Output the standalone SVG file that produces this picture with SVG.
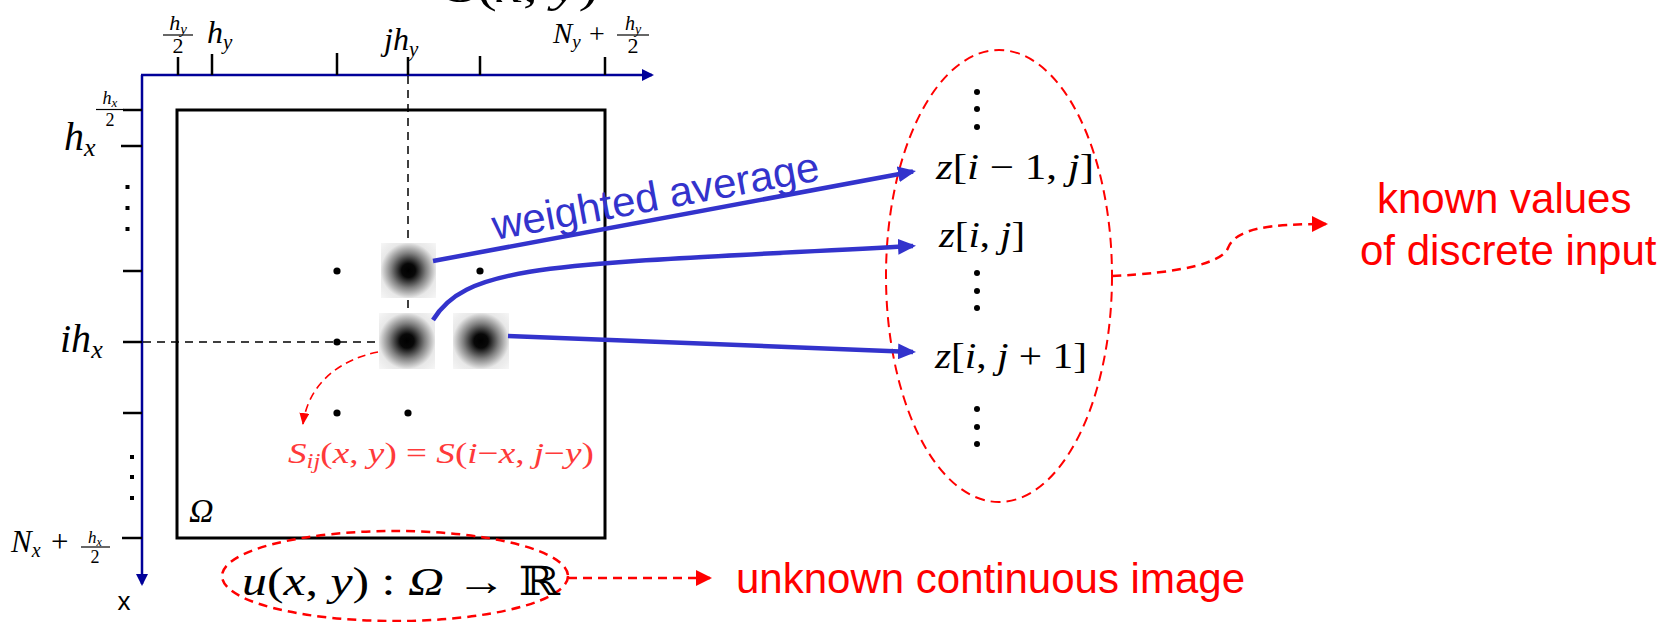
<svg xmlns="http://www.w3.org/2000/svg" width="1672" height="622" viewBox="0 0 1672 622">
<style>
.m{font-family:"Liberation Serif","DejaVu Serif",serif;fill:#000}
.it{font-style:italic}
.rm{font-style:normal}
.s{font-family:"Liberation Sans",Arial,sans-serif}
.blue{fill:#3333CC}
.red{fill:#FF0000}
.pink{fill:#FF3A3A}
.axis{stroke:#000099;stroke-width:2.5;fill:none}
.tick{stroke:#000;stroke-width:2.5}
.fb{stroke:#000;stroke-width:1.2}
.dash{stroke:#000;stroke-width:1.5;stroke-dasharray:8 6;fill:none}
.bl{stroke:#3333CC;stroke-width:4.5;fill:none}
.rd{stroke:#FF0000;stroke-width:2;stroke-dasharray:9 6;fill:none}
.dot{fill:#000}
</style>
<defs>
<marker id="ab" viewBox="0 0 18 16" refX="15" refY="8" markerWidth="18" markerHeight="16" markerUnits="userSpaceOnUse" orient="auto"><path d="M0,0 L18,8 L0,16 z" fill="#3333CC"/></marker>
<marker id="ar" viewBox="0 0 16 16" refX="14" refY="8" markerWidth="16" markerHeight="16" markerUnits="userSpaceOnUse" orient="auto"><path d="M0,0 L16,8 L0,16 z" fill="#FF0000"/></marker>
<marker id="ars" viewBox="0 0 12 10" refX="11" refY="5" markerWidth="12" markerHeight="10" markerUnits="userSpaceOnUse" orient="auto"><path d="M0,0 L12,5 L0,10 z" fill="#FF0000"/></marker>
<marker id="an" viewBox="0 0 12 12" refX="10" refY="6" markerWidth="12" markerHeight="12" markerUnits="userSpaceOnUse" orient="auto"><path d="M0,0 L12,6 L0,12 z" fill="#000099"/></marker>
<radialGradient id="blob" cx="0.5" cy="0.5" r="0.7">
<stop offset="0" stop-color="#000"/>
<stop offset="0.18" stop-color="#080808"/>
<stop offset="0.45" stop-color="#808080"/>
<stop offset="0.72" stop-color="#e8e8e8"/>
<stop offset="1" stop-color="#f6f6f6"/>
</radialGradient>
</defs>
<rect width="1672" height="622" fill="#fff"/>

<text class="m it" x="448" y="2" font-size="44" textLength="150" lengthAdjust="spacingAndGlyphs">S<tspan class="rm">(</tspan>x<tspan class="rm">, </tspan>y<tspan class="rm">)</tspan></text>

<g id="domain">
<rect x="177" y="110" width="428" height="428" fill="none" stroke="#000" stroke-width="3"/>
<text class="m it" x="189" y="522" font-size="34">Ω</text>
</g>

<g id="axes">
<path class="axis" d="M141,75 H652" marker-end="url(#an)"/>
<path class="axis" d="M142,75 V584" marker-end="url(#an)"/>
<text class="s" x="124" y="610" font-size="26" text-anchor="middle">x</text>
<g id="top-ticks">
<line class="tick" x1="178" y1="57" x2="178" y2="75"/>
<line class="tick" x1="212" y1="54" x2="212" y2="75"/>
<line class="tick" x1="337" y1="53" x2="337" y2="75"/>
<line class="tick" x1="408" y1="57" x2="408" y2="75"/>
<line class="tick" x1="480" y1="56" x2="480" y2="75"/>
<line class="tick" x1="605" y1="57" x2="605" y2="75"/>
</g>
<g id="left-ticks">
<line class="tick" x1="123" y1="110" x2="142" y2="110"/>
<line class="tick" x1="121" y1="146" x2="142" y2="146"/>
<line class="tick" x1="123" y1="271" x2="142" y2="271"/>
<line class="tick" x1="123" y1="342" x2="142" y2="342"/>
<line class="tick" x1="123" y1="413" x2="142" y2="413"/>
<line class="tick" x1="122" y1="538" x2="142" y2="538"/>
</g>
<g id="left-dots">
<rect class="dot" x="125.5" y="185" width="4" height="4"/>
<rect class="dot" x="125.5" y="206" width="4" height="4"/>
<rect class="dot" x="125.5" y="227" width="4" height="4"/>
<rect class="dot" x="130" y="455" width="4" height="4"/>
<rect class="dot" x="130" y="475" width="4" height="4"/>
<rect class="dot" x="130" y="496" width="4" height="4"/>
</g>
</g>

<g id="axis-labels">
<text class="m it" x="178" y="30" font-size="22" text-anchor="middle">h<tspan font-size="15" dy="4">y</tspan></text>
<line class="fb" x1="163" y1="35" x2="193" y2="35"/>
<text class="m" x="178" y="53" font-size="22" text-anchor="middle">2</text>
<text class="m it" x="207" y="43" font-size="32">h<tspan font-size="21" dy="6">y</tspan></text>
<text class="m it" x="384" y="50" font-size="32">jh<tspan font-size="21" dy="6">y</tspan></text>
<text class="m it" x="553" y="43" font-size="29">N<tspan font-size="19" dy="5">y</tspan></text>
<text class="m" x="589" y="43" font-size="28">+</text>
<text class="m it" x="633" y="30" font-size="20" text-anchor="middle">h<tspan font-size="14" dy="4">y</tspan></text>
<line class="fb" x1="617" y1="35" x2="649" y2="35"/>
<text class="m" x="633" y="53" font-size="22" text-anchor="middle">2</text>

<text class="m it" x="110" y="104" font-size="18" text-anchor="middle">h<tspan font-size="13" dy="3">x</tspan></text>
<line class="fb" x1="96" y1="109.5" x2="124" y2="109.5"/>
<text class="m" x="110" y="126" font-size="18" text-anchor="middle">2</text>
<text class="m it" x="64" y="150" font-size="40">h<tspan font-size="26" dy="6">x</tspan></text>
<text class="m it" x="60" y="352" font-size="40">ih<tspan font-size="26" dy="6">x</tspan></text>
<text class="m it" x="11" y="552" font-size="31">N<tspan font-size="20" dy="5">x</tspan></text>
<text class="m" x="51" y="552" font-size="31">+</text>
<text class="m it" x="95" y="543" font-size="17" text-anchor="middle">h<tspan font-size="12" dy="3">x</tspan></text>
<line class="fb" x1="81" y1="547" x2="110" y2="547"/>
<text class="m" x="95" y="563" font-size="18" text-anchor="middle">2</text>
</g>

<g id="guides">
<line class="dash" x1="408" y1="76" x2="408" y2="316"/>
<line class="dash" x1="143" y1="342" x2="380" y2="342"/>
</g>

<g id="grid-dots">
<circle class="dot" cx="337" cy="271" r="3.6"/>
<circle class="dot" cx="480" cy="271" r="3.6"/>
<circle class="dot" cx="337" cy="342" r="3.6"/>
<circle class="dot" cx="337" cy="413" r="3.6"/>
<circle class="dot" cx="408" cy="413" r="3.6"/>
</g>

<g id="kernels">
<rect id="k1" x="381" y="243" width="55" height="55" fill="url(#blob)"/>
<rect id="k2" x="379" y="313" width="56" height="56" fill="url(#blob)"/>
<rect id="k3" x="453" y="313" width="56" height="56" fill="url(#blob)"/>
</g>

<g id="kernel-formula">
<text class="m pink" x="288" y="463" font-size="30" textLength="306" lengthAdjust="spacingAndGlyphs"><tspan class="it">S</tspan><tspan class="it" font-size="20" dy="5">ij</tspan><tspan dy="-5">(</tspan><tspan class="it">x</tspan>, <tspan class="it">y</tspan>) = <tspan class="it">S</tspan>(<tspan class="it">i</tspan>−<tspan class="it">x</tspan>, <tspan class="it">j</tspan>−<tspan class="it">y</tspan>)</text>
</g>

<g id="samples">
<ellipse cx="999" cy="276" rx="113" ry="226" class="rd" style="stroke-dasharray:10 6"/>
<circle class="dot" cx="977" cy="92" r="3"/>
<circle class="dot" cx="977" cy="109" r="3"/>
<circle class="dot" cx="977" cy="127" r="3"/>
<text class="m it" x="936" y="179" font-size="35" textLength="158" lengthAdjust="spacingAndGlyphs">z<tspan class="rm">[</tspan>i<tspan class="rm"> − 1, </tspan>j<tspan class="rm">]</tspan></text>
<text class="m it" x="939" y="247" font-size="35" textLength="86" lengthAdjust="spacingAndGlyphs">z<tspan class="rm">[</tspan>i<tspan class="rm">, </tspan>j<tspan class="rm">]</tspan></text>
<circle class="dot" cx="977" cy="273" r="3"/>
<circle class="dot" cx="977" cy="291" r="3"/>
<circle class="dot" cx="977" cy="308" r="3"/>
<text class="m it" x="935" y="368" font-size="35" textLength="152" lengthAdjust="spacingAndGlyphs">z<tspan class="rm">[</tspan>i<tspan class="rm">, </tspan>j<tspan class="rm"> + 1]</tspan></text>
<circle class="dot" cx="977" cy="409" r="3"/>
<circle class="dot" cx="977" cy="427" r="3"/>
<circle class="dot" cx="977" cy="444" r="3"/>
</g>

<g id="image-label">
<ellipse cx="395" cy="576" rx="173" ry="45" class="rd" style="stroke-width:2.5"/>
<text class="m" x="242" y="595" font-size="40" textLength="318" lengthAdjust="spacingAndGlyphs"><tspan class="it">u</tspan>(<tspan class="it">x</tspan>, <tspan class="it">y</tspan>) : <tspan class="it">Ω</tspan> → ℝ</text>
</g>

<g id="known-label">
<text class="s red" x="1377" y="213" font-size="42">known values</text>
<text class="s red" x="1360" y="265" font-size="42">of discrete input</text>
</g>
<g id="unknown-label">
<text class="s red" x="736" y="593" font-size="42">unknown continuous image</text>
</g>

<g id="connectors">
<path class="bl" d="M433,261 L913,171.5" marker-end="url(#ab)"/>
<path class="bl" d="M433,320 C468,262 560,265 913,246" marker-end="url(#ab)"/>
<path class="bl" d="M508,336 L913,352" marker-end="url(#ab)"/>
<path class="rd" d="M378,352 C338,360 308,385 303,424" marker-end="url(#ars)" style="stroke-width:1.6;stroke-dasharray:8 5"/>
<path class="rd" d="M568,578 L710,578" marker-end="url(#ar)" style="stroke-width:2.5"/>
<path class="rd" d="M1112,276 C1180,273 1222,263 1228,248 C1236,228 1270,224 1326,224" marker-end="url(#ar)" style="stroke-width:2.5"/>
</g>

<text class="s blue" x="495" y="240" font-size="42" transform="rotate(-10.4 495 240)">weighted average</text>
</svg>
